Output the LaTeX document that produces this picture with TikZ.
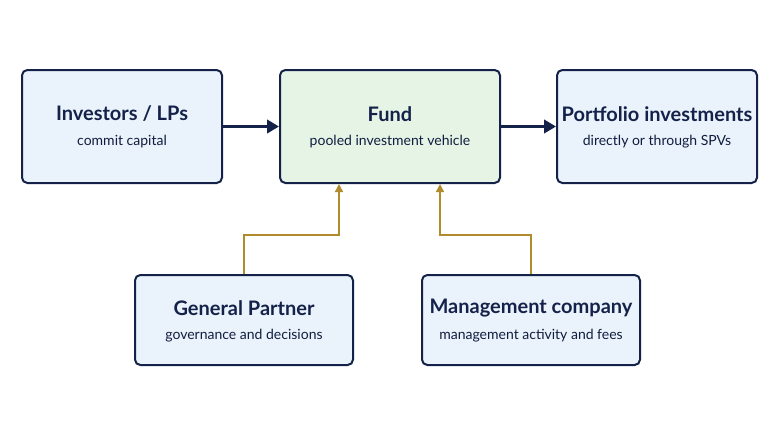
\documentclass[tikz,border=0pt]{standalone}
\usepackage{fontspec}
\setmainfont{Lato}
\usetikzlibrary{arrows.meta}
\definecolor{navy}{HTML}{14224A}
\definecolor{bluef}{HTML}{EAF2FB}
\definecolor{greenf}{HTML}{E6F4E6}
\definecolor{gold}{HTML}{B08C2C}
\begin{document}
\begin{tikzpicture}[x=0.75pt,y=-0.75pt,
 box/.style={draw=navy,line width=1.5pt,rounded corners=4pt,fill=bluef,align=center,inner sep=0pt},
 t/.style={font=\fontsize{15}{17}\selectfont\bfseries,text=navy},
 s/.style={font=\fontsize{10.5}{12}\selectfont,text=navy!85!black},
 main/.style={draw=navy,line width=2.2pt,-{Triangle[length=9pt,width=10pt]}},
 sub/.style={draw=gold,line width=1pt,-{Triangle[length=6pt,width=6pt]}}]
\useasboundingbox[fill=white] (0,0) rectangle (780,439);
\node[box,minimum width=200*0.75pt,minimum height=113*0.75pt] (inv) at (122,126.5) {};
\node[box,fill=greenf,minimum width=220*0.75pt,minimum height=113*0.75pt] (fund) at (390,126.5) {};
\node[box,minimum width=200*0.75pt,minimum height=113*0.75pt] (port) at (657,126.5) {};
\node[box,minimum width=218*0.75pt,minimum height=90*0.75pt] (gp) at (244,320) {};
\node[box,minimum width=218*0.75pt,minimum height=90*0.75pt] (mc) at (531,320) {};
\node[t] (invt) at (122,114) {Investors / LPs};
\node[s] (invs) at (122,142) {commit capital};
\node[t] (fundt) at (390,114) {Fund};
\node[s] (funds) at (390,142) {pooled investment vehicle};
\node[t] (portt) at (657,114) {Portfolio investments};
\node[s] (ports) at (657,142) {directly or through SPVs};
\node[t] (gpt) at (244,308) {General Partner};
\node[s] (gps) at (244,336) {governance and decisions};
\node[t] (mct) at (531,308) {Management company};
\node[s] (mcs) at (531,336) {management activity and fees};
\draw[main] (inv.east) -- (fund.west);
\draw[main] (fund.east) -- (port.west);
\coordinate (f1) at (339,183);
\coordinate (f2) at (440,183);
\draw[sub] (gp.north) |- (339,235) -- (fund.south -| f1);
\draw[sub] (mc.north) |- (440,235) -- (fund.south -| f2);
\end{tikzpicture}
\end{document}
